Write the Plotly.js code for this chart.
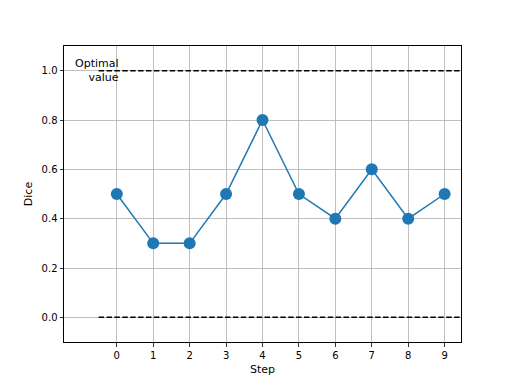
<!DOCTYPE html>
<html><head><meta charset="utf-8">
<script src="https://cdn.plot.ly/plotly-3.0.1.min.js"></script>
<style>html,body{margin:0;padding:0;background:#fff}</style>
</head><body><div id="c" style="width:512px;height:384px"></div>
<script>
const steps = [0,1,2,3,4,5,6,7,8,9];
const dice = [0.5,0.3,0.3,0.5,0.8,0.5,0.4,0.6,0.4,0.5];
const optimalX = [-0.5, 9.5];
const optimalY = [1.0, 1.0];
const zeroY = [0.0, 0.0];
const xTicks = [0,1,2,3,4,5,6,7,8,9];
const yTicks = [0.0,0.2,0.4,0.6,0.8,1.0];
const annText = 'Optimal<br>value';

const font = {family: 'DejaVu Sans', size: 11, color: '#000'};
const traces = [
  {x: optimalX, y: optimalY, mode: 'lines', line: {color: '#000', width: 1.5, dash: '5.5px,2.4px'}, hoverinfo: 'skip', cliponaxis: true},
  {x: optimalX, y: zeroY, mode: 'lines', line: {color: '#000', width: 1.5, dash: '5.5px,2.4px'}, hoverinfo: 'skip', cliponaxis: true},
  {x: steps, y: dice, mode: 'lines+markers', line: {color: '#1f77b4', width: 1.5},
   marker: {color: '#1f77b4', size: 12}, cliponaxis: false}
];
const layout = {
  width: 512, height: 384,
  margin: {l: 64, r: 51, t: 46, b: 42, pad: 0},
  paper_bgcolor: '#fff', plot_bgcolor: '#fff',
  showlegend: false,
  font: font,
  xaxis: {
    range: [-1.45, 9.45], tickvals: xTicks, ticktext: xTicks.map(String),
    showgrid: true, gridcolor: '#b0b0b0', gridwidth: 0.8, zeroline: false,
    showline: true, linecolor: '#000', linewidth: 1, mirror: true,
    ticks: 'outside', ticklen: 3.5, tickwidth: 0.8, tickcolor: '#000',
    tickfont: {family: 'DejaVu Sans', size: 10, color: '#000'},
    title: {text: 'Step', font: {family: 'DejaVu Sans', size: 11, color: '#000'}, standoff: 5}
  },
  yaxis: {
    range: [-0.1, 1.1], tickvals: yTicks, ticktext: yTicks.map(v => v.toFixed(1)),
    showgrid: true, gridcolor: '#b0b0b0', gridwidth: 0.8, zeroline: false,
    showline: true, linecolor: '#000', linewidth: 1, mirror: true,
    ticks: 'outside', ticklen: 3.5, tickwidth: 0.8, tickcolor: '#000',
    tickfont: {family: 'DejaVu Sans', size: 10, color: '#000'},
    title: {text: 'Dice', font: {family: 'DejaVu Sans', size: 11, color: '#000'}, standoff: 6}
  },
  annotations: [{
    x: -0.55, y: 1.0, xref: 'x', yref: 'y', text: annText, showarrow: false,
    xanchor: 'center', yanchor: 'middle', align: 'right',
    font: {family: 'DejaVu Sans', size: 11, color: '#000'}
  }]
};
Plotly.newPlot('c', traces, layout, {displayModeBar: false, staticPlot: true});
</script></body></html>
